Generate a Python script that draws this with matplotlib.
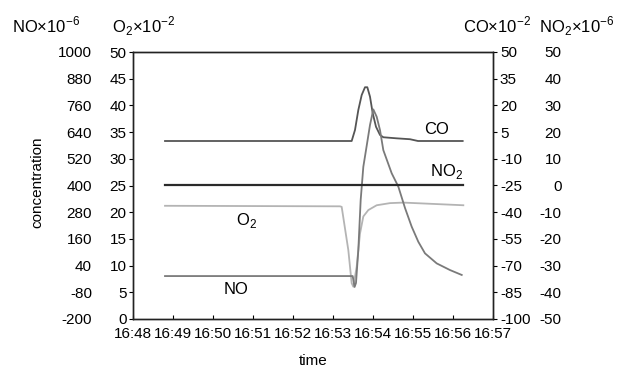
import numpy as np
import matplotlib.pyplot as plt

plt.rcParams['font.family'] = ['Liberation Sans', 'DejaVu Sans']
plt.rcParams['mathtext.fontset'] = 'custom'
plt.rcParams['mathtext.rm'] = 'Liberation Sans'
plt.rcParams['axes.unicode_minus'] = False

# time in minutes after 16:48
time_labels = ['16:48', '16:49', '16:50', '16:51', '16:52', '16:53',
               '16:54', '16:55', '16:56', '16:57']

co_t = [0.8, 5.467, 5.55, 5.633, 5.717, 5.8, 5.858, 5.925, 5.992, 6.075,
        6.175, 6.258, 6.592, 6.925, 7.125, 8.242]
co_v = [0.0, 0.0, 6.2, 17.4, 25.8, 30.2, 30.2, 24.9, 15.7, 8.0,
        3.4, 2.1, 1.5, 1.0, 0.0, 0.0]

no2_t = [0.8, 8.25]
no2_v = [0.0, 0.0]

o2_t = [0.8, 5.175, 5.217, 5.383, 5.467, 5.508, 5.592, 5.675, 5.758, 5.883,
        6.092, 6.425, 6.758, 8.258]
o2_v = [21.2, 21.1, 21.0, 12.9, 6.7, 6.05, 9.8, 16.0, 19.2, 20.4,
        21.3, 21.7, 21.8, 21.3]

no_t = [0.8, 5.492, 5.54, 5.575, 5.633, 5.692, 5.758, 5.825, 5.925, 6.008,
        6.092, 6.175, 6.258, 6.467, 6.633, 6.8, 6.967, 7.133, 7.3, 7.592,
        7.925, 8.218]
no_v = [-7, -7, -56, -38, 110, 335, 484, 559, 672, 742,
        709, 649, 559, 455, 395, 299, 215, 147, 95, 50,
        20, -2]

fs = 11

fig = plt.figure(figsize=(6.17, 3.70), dpi=100)
ax = fig.add_axes([133 / 617, 51 / 370, 360 / 617, 267 / 370])

# O2 axis (left, drawn)
ax.set_xlim(0, 9)
ax.set_ylim(0, 50)
ax.set_yticks(np.arange(0, 51, 5))
ax.set_xticks(np.arange(0, 10))
ax.set_xticklabels(time_labels)
ax.tick_params(axis='y', direction='out', length=3, pad=1.5, labelsize=fs)
ax.tick_params(axis='x', direction='in', length=3, pad=6, labelsize=fs)

# CO axis (right, drawn)
ax_co = ax.twinx()
ax_co.set_ylim(-100, 50)
ax_co.set_yticks(np.arange(-100, 51, 15))
ax_co.tick_params(axis='y', direction='out', length=3, pad=2, labelsize=fs)

# NO axis (far left, labels only)
ax_no = ax.twinx()
ax_no.set_ylim(-200, 1000)
ax_no.set_yticks(np.arange(-200, 1001, 120))
ax_no.yaxis.set_ticks_position('left')
ax_no.tick_params(axis='y', length=0, pad=29.5, labelsize=fs)
for s in ax_no.spines.values():
    s.set_visible(False)

# NO2 axis (far right, labels only)
ax_no2 = ax.twinx()
ax_no2.set_ylim(-50, 50)
ax_no2.set_yticks(np.arange(-50, 51, 10))
ax_no2.tick_params(axis='y', length=0, pad=49.5, labelsize=fs)
for lab in ax_no2.get_yticklabels():
    lab.set_horizontalalignment('right')
for s in ax_no2.spines.values():
    s.set_visible(False)

for a in (ax, ax_co):
    for s in a.spines.values():
        s.set_color('#222222')
        s.set_linewidth(1.0)

ax_co.plot(co_t, co_v, color='#555555', lw=1.3)
ax_no2.plot(no2_t, no2_v, color='#2a2a2a', lw=1.6)
ax.plot(o2_t, o2_v, color='#b4b4b4', lw=1.3)
ax_no.plot(no_t, no_v, color='#7a7a7a', lw=1.3)

ax.text(7.6, 35.4, 'CO', fontsize=fs + 1, ha='center', va='center')
ax.text(7.85, 27.6, 'NO$_2$', fontsize=fs + 1, ha='center', va='center')
ax.text(2.85, 18.5, 'O$_2$', fontsize=fs + 1, ha='center', va='center')
ax.text(2.57, 5.6, 'NO', fontsize=fs + 1, ha='center', va='center')

fig.text(37 / 617, 1 - 182 / 370, 'concentration', rotation=90,
         fontsize=fs, ha='center', va='center')
fig.text(313 / 617, 1 - 361 / 370, 'time', fontsize=fs, ha='center', va='center')

hfs = 12
fig.text(12 / 617, 1 - 32 / 370, r'NO$\times$10$^{-6}$', fontsize=hfs, ha='left', va='baseline')
fig.text(112 / 617, 1 - 32 / 370, r'O$_2$$\times$10$^{-2}$', fontsize=hfs, ha='left', va='baseline')
fig.text(463 / 617, 1 - 32 / 370, r'CO$\times$10$^{-2}$', fontsize=hfs, ha='left', va='baseline')
fig.text(539 / 617, 1 - 32 / 370, r'NO$_2$$\times$10$^{-6}$', fontsize=hfs, ha='left', va='baseline')

fig.savefig('out.png', dpi=100)
